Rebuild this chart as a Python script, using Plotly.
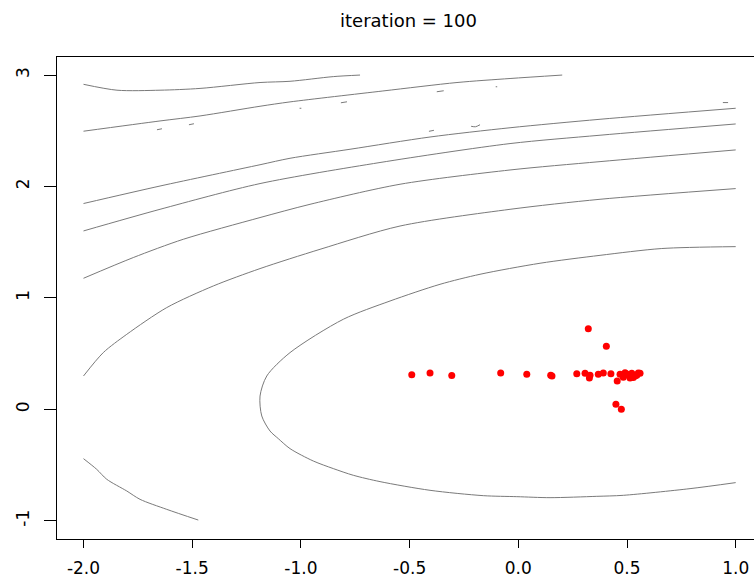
import plotly.graph_objects as go

# Contour lines of the objective surface (x, y pairs along each level curve)
level_a_x = [-2.0, -1.846, -1.648, -1.464, -1.188, -1.050, -0.851, -0.728]
level_a_y = [2.917, 2.864, 2.864, 2.880, 2.933, 2.944, 2.986, 3.0]

level_b_x = [-2.0, -1.648, -1.464, -1.188, -1.050, -0.623, -0.282, -0.038, 0.202]
level_b_y = [2.496, 2.588, 2.633, 2.720, 2.759, 2.857, 2.933, 2.969, 3.0]

level_c_x = [-2.0, -1.648, -1.188, -1.050, -0.774, -0.406, -0.038, 0.376, 1.0]
level_c_y = [1.847, 2.004, 2.195, 2.253, 2.334, 2.444, 2.527, 2.603, 2.702]

level_d_x = [-2.0, -1.648, -1.188, -0.636, -0.038, 0.376, 1.0]
level_d_y = [1.601, 1.795, 2.026, 2.215, 2.385, 2.460, 2.561]

level_e_x = [-2.0, -1.771, -1.541, -1.188, -0.958, -0.544, -0.038, 0.376, 1.0]
level_e_y = [1.176, 1.362, 1.526, 1.721, 1.840, 2.020, 2.148, 2.223, 2.328]

level_f_x = [-2.0, -1.909, -1.801, -1.617, -1.403, -1.188, -0.912, -0.544, -0.038, 0.376, 1.0]
level_f_y = [0.299, 0.509, 0.673, 0.913, 1.107, 1.263, 1.436, 1.645, 1.795, 1.885, 1.981]

level_g_x = [1.0, 0.660, 0.376, 0.100, -0.176, -0.360, -0.590, -0.805, -1.050, -1.157,
             -1.188, -1.180, -1.142, -1.104, -1.050, -0.943, -0.851, -0.759, -0.636,
             -0.406, -0.161, -0.007, 0.146, 0.361, 0.483, 0.790, 1.0]
level_g_y = [1.460, 1.443, 1.382, 1.311, 1.212, 1.122, 0.972, 0.808, 0.509, 0.299,
             0.119, -0.060, -0.195, -0.263, -0.353, -0.464, -0.532, -0.592, -0.649,
             -0.727, -0.775, -0.784, -0.793, -0.781, -0.772, -0.712, -0.658]

level_h_x = [-2.0, -1.939, -1.893, -1.801, -1.740, -1.617, -1.472]
level_h_y = [-0.443, -0.539, -0.628, -0.733, -0.808, -0.898, -0.994]

# Tiny closed pieces of the upper levels (start/end of each short piece)
piece_x = [[-1.662, -1.639], [-1.515, -1.492], [-1.006, -0.998], [-0.816, -0.788],
           [-0.375, -0.343], [-0.104, -0.097], [-0.411, -0.388], [-0.217, -0.197, -0.176],
           [0.941, 0.965]]
piece_y = [[2.509, 2.518], [2.554, 2.563], [2.702, 2.702], [2.751, 2.760],
           [2.850, 2.859], [2.895, 2.895], [2.495, 2.504], [2.540, 2.536, 2.554],
           [2.753, 2.753]]

# Particle positions at the current iteration
swarm_x = [-0.490, -0.406, -0.306, -0.081, 0.039, 0.149, 0.155, 0.269, 0.307, 0.330,
           0.327, 0.368, 0.391, 0.426, 0.322, 0.405, 0.455, 0.449, 0.474, 0.468,
           0.491, 0.506, 0.522, 0.537, 0.552, 0.483, 0.514, 0.529, 0.545, 0.499, 0.560]
swarm_y = [0.311, 0.326, 0.303, 0.326, 0.314, 0.305, 0.300, 0.320, 0.323, 0.305,
           0.281, 0.314, 0.326, 0.320, 0.724, 0.566, 0.254, 0.045, 0.000, 0.314,
           0.329, 0.305, 0.323, 0.299, 0.326, 0.287, 0.281, 0.285, 0.305, 0.317, 0.323]

x_ticks = [-2.0, -1.5, -1.0, -0.5, 0.0, 0.5, 1.0]
x_tick_text = ["-2.0", "-1.5", "-1.0", "-0.5", "0.0", "0.5", "1.0"]
y_ticks = [-1, 0, 1, 2, 3]
y_tick_text = ["-1", "0", "1", "2", "3"]

title_text = "iteration = 100"

line_style = dict(color="#7a7a7a", width=1, shape="spline", smoothing=0.8)
fig = go.Figure()

levels = [(level_a_x, level_a_y), (level_b_x, level_b_y), (level_c_x, level_c_y),
          (level_d_x, level_d_y), (level_e_x, level_e_y), (level_f_x, level_f_y),
          (level_g_x, level_g_y), (level_h_x, level_h_y)]
for lx, ly in levels:
    fig.add_trace(go.Scatter(x=lx, y=ly, mode="lines", line=line_style,
                             hoverinfo="skip", showlegend=False))

for px, py in zip(piece_x, piece_y):
    fig.add_trace(go.Scatter(x=px, y=py, mode="lines", line=line_style,
                             hoverinfo="skip", showlegend=False))

fig.add_trace(go.Scatter(x=swarm_x, y=swarm_y, mode="markers",
                         marker=dict(color="#ff0000", size=7, line=dict(width=0)),
                         showlegend=False))

font_family = "DejaVu Sans"
fig.update_layout(
    width=754, height=578,
    margin=dict(l=57, r=0, t=57, b=39),
    paper_bgcolor="white", plot_bgcolor="white",
    font=dict(family=font_family, color="black", size=17),
    title=dict(text=title_text, x=0.5043, xref="paper", xanchor="center",
               y=1 - 21 / 578, yref="container", yanchor="middle",
               font=dict(family=font_family, size=18, color="black")),
    xaxis=dict(range=[-2.1219, 1.0842], tickvals=x_ticks, ticktext=x_tick_text,
               ticks="outside", ticklen=8, tickwidth=1, tickcolor="black",
               ticklabelstandoff=6, automargin=False,
               showline=True, linecolor="black", linewidth=1, mirror=True,
               showgrid=False, zeroline=False,
               tickfont=dict(family=font_family, size=17, color="black")),
    yaxis=dict(range=[-1.164, 3.162], tickvals=y_ticks, ticktext=y_tick_text,
               ticks="outside", ticklen=12, tickwidth=1, tickcolor="black",
               tickangle=-90, ticklabelstandoff=8, automargin=False,
               showline=True, linecolor="black", linewidth=1, mirror=False,
               showgrid=False, zeroline=False,
               tickfont=dict(family=font_family, size=17, color="black")),
)

fig.write_html("out.html")
